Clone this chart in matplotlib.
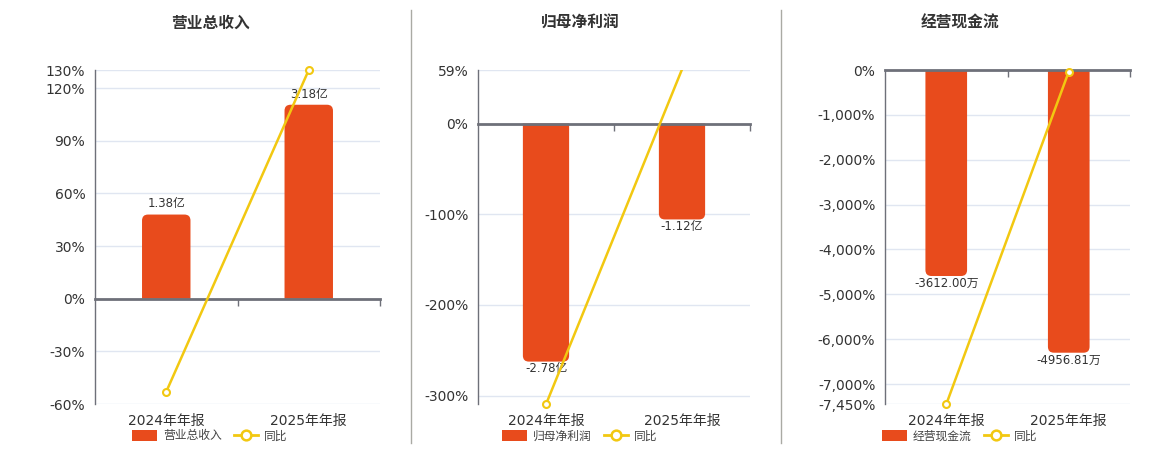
import matplotlib
matplotlib.use("Agg")
import matplotlib.pyplot as plt
import matplotlib.patches as mpatches
from matplotlib.lines import Line2D
from matplotlib.patches import PathPatch
from matplotlib.path import Path

plt.rcParams['font.family'] = ['DejaVu Sans', 'Noto Sans CJK SC']

# ---------------- data ----------------
categories = ["2024年年报", "2025年年报"]

titles = ["营业总收入", "归母净利润", "经营现金流"]
bar_names = ["营业总收入", "归母净利润", "经营现金流"]

revenue = [1.38, 3.18]            # 亿
revenue_labels = ["1.38亿", "3.18亿"]
revenue_yoy = [-53.0, 130.4]      # %

profit = [-2.78, -1.12]           # 亿
profit_labels = ["-2.78亿", "-1.12亿"]
profit_yoy = [-309.5, 59.7]       # %

cash = [-3612.00, -4956.81]       # 万
cash_labels = ["-3612.00万", "-4956.81万"]
cash_yoy = [-7450.0, -37.2]       # %

# y-axis settings (percent axis)
pct_ticks = [
    [-60, -30, 0, 30, 60, 90, 120, 130.4],
    [-300, -200, -100, 0, 59],
    [-7450, -7000, -6000, -5000, -4000, -3000, -2000, -1000, 0],
]
pct_lims = [(-60, 130.4), (-309.5, 59), (-7450, 0)]
# percent units per bar unit (alignment of bar axis with percent axis)
bar_scale = [34.78, 94.4, 1.271]

series = [
    (revenue, revenue_labels, revenue_yoy),
    (profit, profit_labels, profit_yoy),
    (cash, cash_labels, cash_yoy),
]

# ---------------- style ----------------
W, H = 1160, 450
BAR_C = "#E84B1C"
LINE_C = "#F2C811"
AXIS_C = "#6E7079"
GRID_C = "#E0E6F1"
TXT_C = "#333333"

axes_px = [(95, 380, 70, 404), (478, 750, 70, 404.3), (885, 1130, 70, 404.3)]
title_x = [210, 580, 960]
legend_x = [210, 580, 960]

fig = plt.figure(figsize=(W / 100, H / 100), dpi=100)


def fmt_pct(v):
    return f"{int(v):,}%"


def rounded_bar_path(x, w, h, rx, ry):
    """Bar from 0 to h with the far end rounded (radius rx, ry in data units)."""
    s = 1 if h >= 0 else -1
    top = h
    ry = min(ry, abs(h) / 2) * s
    verts = [
        (x, 0), (x, top - ry),
        (x, top), (x + rx, top),
        (x + w - rx, top),
        (x + w, top), (x + w, top - ry),
        (x + w, 0), (x, 0),
    ]
    codes = [Path.MOVETO, Path.LINETO,
             Path.CURVE3, Path.CURVE3,
             Path.LINETO,
             Path.CURVE3, Path.CURVE3,
             Path.LINETO, Path.CLOSEPOLY]
    return Path(verts, codes)


for i in range(3):
    vals, labels, yoy = series[i]
    l, r, t, b = axes_px[i]
    rect = [l / W, 1 - b / H, (r - l) / W, (b - t) / H]
    ax = fig.add_axes(rect)
    ax.set_xlim(-0.5, 1.5)
    ax.set_ylim(*pct_lims[i])
    ax.set_yticks(pct_ticks[i])
    ax.set_yticklabels([fmt_pct(v) for v in pct_ticks[i]])
    ax.tick_params(axis='y', length=0, pad=7, labelsize=10, labelcolor=TXT_C)
    ax.set_xticks([0, 1])
    ax.set_xticklabels(categories)
    ax.tick_params(axis='x', length=0, pad=7, labelsize=10, labelcolor=TXT_C)
    for s in ['top', 'right', 'bottom']:
        ax.spines[s].set_visible(False)
    ax.spines['left'].set_color(AXIS_C)
    ax.spines['left'].set_linewidth(1)
    ax.grid(axis='y', color=GRID_C, linewidth=1)
    ax.set_axisbelow(True)

    # bar axis
    ax2 = ax.twinx()
    ax2.set_ylim(pct_lims[i][0] / bar_scale[i], pct_lims[i][1] / bar_scale[i])
    ax2.set_xlim(-0.5, 1.5)
    ax2.axis('off')
    bars = ax2.bar([0, 1], vals, width=0.34, color=BAR_C)
    ax2.bar_label(bars, labels=labels, padding=3 if vals[0] > 0 else 0.5,
                  fontsize=8.5, color=TXT_C)
    # rounded far ends
    p0 = ax2.transData.transform((0, 0))
    p1 = ax2.transData.transform((1, 1))
    xpp = 1 / (p1[0] - p0[0])      # x data per px
    ypp = 1 / abs(p1[1] - p0[1])   # y data per px
    rad_px = 6
    for rct in bars.patches:
        x, w = rct.get_x(), rct.get_width()
        h = rct.get_y() + rct.get_height() if rct.get_y() == 0 else rct.get_y()
        h = vals[bars.patches.index(rct)]
        rct.set_visible(False)
        pp = PathPatch(rounded_bar_path(x, w, h, rad_px * xpp, rad_px * ypp),
                       facecolor=BAR_C, edgecolor='none')
        ax2.add_patch(pp)

    # line axis (top)
    ax3 = ax.twinx()
    ax3.set_ylim(*pct_lims[i])
    ax3.set_xlim(-0.5, 1.5)
    ax3.set_yticks([])
    for s in ['top', 'right', 'left', 'bottom']:
        ax3.spines[s].set_visible(False)
    ax3.tick_params(axis='x', length=0, labelbottom=False)
    # zero axis line with category boundary ticks
    lo, hi = pct_lims[i]
    zero_frac = (0 - lo) / (hi - lo)
    sec = ax3.secondary_xaxis(zero_frac)
    sec.set_xticks([0.5, 1.5])
    sec.set_xticklabels(["", ""])
    sec.tick_params(axis='x', length=5, width=1, color=AXIS_C,
                    direction='out' if zero_frac <= 0.5 else 'in')
    for s in sec.spines.values():
        s.set_color(AXIS_C)
        s.set_linewidth(2)

    ax3.plot([0, 1], yoy, color=LINE_C, linewidth=1.8, zorder=3, clip_on=True)
    visible = [k for k, v in enumerate(yoy) if lo - 1e-6 <= v <= hi + 1e-6]
    ax3.plot(visible, [yoy[k] for k in visible], linestyle='none',
             marker='o', markersize=5, markerfacecolor='white',
             markeredgecolor=LINE_C, markeredgewidth=1.5, zorder=4, clip_on=False)

    # title
    fig.text(title_x[i] / W, 1 - 23 / H, titles[i], ha='center', va='center',
             fontsize=11.3, fontweight='bold', color=TXT_C)

    # legend
    handles = [
        mpatches.Patch(facecolor=BAR_C, edgecolor='none', label=bar_names[i]),
        Line2D([0], [0], color=LINE_C, linewidth=2, marker='o', markersize=7,
               markerfacecolor='white', markeredgecolor=LINE_C,
               markeredgewidth=1.8, label="同比"),
    ]
    fig.legend(handles=handles, loc='center', bbox_to_anchor=(legend_x[i] / W, 1 - 436 / H),
               ncol=2, frameon=False, fontsize=8.5, handlelength=2.1,
               handleheight=0.95, handletextpad=0.5, columnspacing=1.0,
               labelcolor='#444444', borderpad=0, borderaxespad=0)

# separators
for xs in [410.5, 780.5]:
    fig.add_artist(Line2D([xs / W, xs / W], [1 - 10 / H, 1 - 443 / H],
                          color="#AAAAA4", linewidth=1))

fig.savefig("out.png", dpi=100)
